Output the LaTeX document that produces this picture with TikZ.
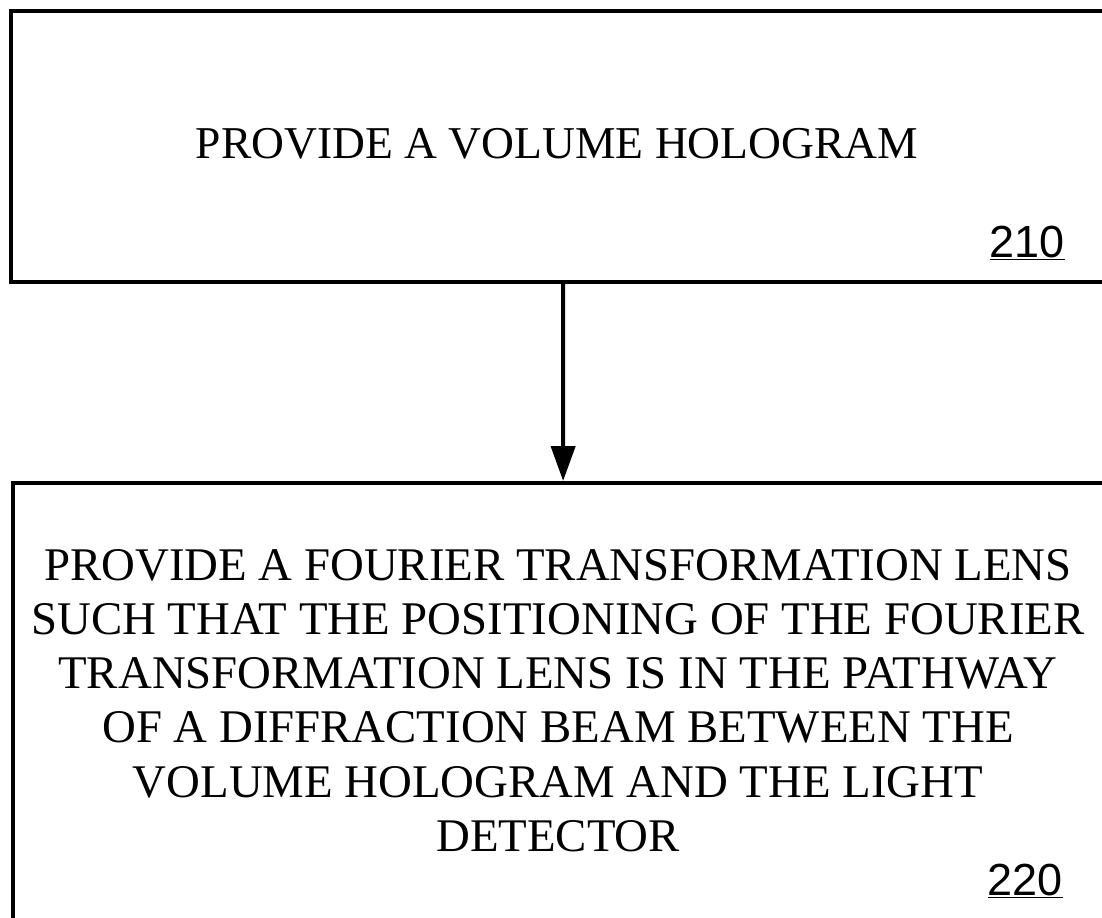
\documentclass[tikz,border=0pt]{standalone}
\usepackage{fontspec}
\setmainfont{Liberation Serif}
\newfontfamily\labelfont{Liberation Sans}
\usetikzlibrary{arrows.meta,positioning}

\tikzset{
  stepbox/.style = {draw, line width=3pt, rectangle, inner sep=0pt, anchor=north west},
  steptext/.style = {inner sep=0pt, font=\fontsize{32.4}{38.4}\selectfont},
  steplabel/.style = {inner sep=0pt, anchor=base east, font=\labelfont\fontsize{32}{38.4}\selectfont},
}

\begin{document}
\begin{tikzpicture}
  \useasboundingbox (0,0) rectangle (27.55,-22.925);

  \node[stepbox, minimum width=27.6cm, minimum height=6.775cm] (box210) at (0.225,-0.225) {};
  \node[stepbox, minimum width=27.5cm, minimum height=11.5cm] (box220) at (0.275,-12.025) {};

  \node[steptext, anchor=base] (text210) at (13.925,-3.95) {PROVIDE A VOLUME HOLOGRAM};
  \node[steplabel] (label210) at (26.625,-6.425) {\underline{210}};

  \node[steptext, align=center, anchor=north, font=\fontsize{33.3}{38.6}\selectfont] (text220) at (13.95,-13.72) {PROVIDE A FOURIER TRANSFORMATION LENS\\
    SUCH THAT THE POSITIONING OF THE FOURIER\\
    TRANSFORMATION LENS IS IN THE PATHWAY\\
    OF A DIFFRACTION BEAM BETWEEN THE\\
    VOLUME HOLOGRAM AND THE LIGHT\\
    DETECTOR};
  \node[steplabel] (label220) at (26.575,-22.375) {\underline{220}};

  \draw[line width=3pt, -{Triangle[length=0.875cm, width=0.6cm]}] (box210.south) -- (box220.north);
\end{tikzpicture}
\end{document}
